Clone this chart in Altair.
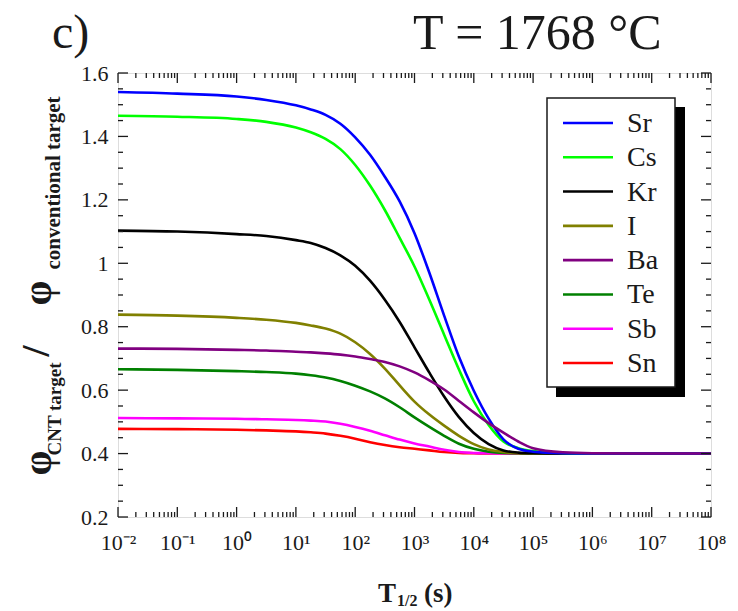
import altair as alt
import pandas as pd

# Half-life grid (s) and the CNT / conventional target ratio for each nuclide
T_HALF = [0.01, 0.1, 1, 3.16, 10, 17.8, 31.6, 56.2, 100, 178, 316, 562,
          1000, 1780, 3160, 5620, 1e4, 1.78e4, 3.16e4, 5.62e4, 1e5, 3.16e5,
          1e6, 1e7, 1e8]

SR = [1.540, 1.535, 1.526, 1.515, 1.498, 1.485, 1.468, 1.440, 1.397, 1.342, 1.273, 1.195,
      1.095, 0.970, 0.835, 0.705, 0.598, 0.510, 0.445, 0.415, 0.406, 0.401, 0.400, 0.400, 0.400]
CS = [1.465, 1.462, 1.455, 1.446, 1.428, 1.413, 1.392, 1.360, 1.310, 1.245, 1.168, 1.080,
      0.990, 0.885, 0.775, 0.665, 0.565, 0.490, 0.438, 0.417, 0.408, 0.402, 0.400, 0.400, 0.400]
KR = [1.103, 1.100, 1.092, 1.086, 1.073, 1.064, 1.048, 1.025, 0.992, 0.945, 0.885, 0.815,
      0.735, 0.655, 0.580, 0.515, 0.465, 0.430, 0.410, 0.403, 0.401, 0.400, 0.400, 0.400, 0.400]
I_ = [0.838, 0.835, 0.828, 0.822, 0.812, 0.804, 0.794, 0.778, 0.751, 0.714, 0.668, 0.615,
      0.564, 0.523, 0.488, 0.456, 0.430, 0.413, 0.405, 0.401, 0.400, 0.400, 0.400, 0.400, 0.400]
BA = [0.731, 0.730, 0.727, 0.725, 0.721, 0.719, 0.716, 0.712, 0.706, 0.698, 0.689, 0.675,
      0.656, 0.631, 0.602, 0.566, 0.530, 0.496, 0.466, 0.438, 0.417, 0.404, 0.401, 0.400, 0.400]
TE = [0.666, 0.664, 0.660, 0.657, 0.652, 0.647, 0.640, 0.629, 0.614, 0.596, 0.574, 0.546,
      0.514, 0.484, 0.456, 0.431, 0.415, 0.406, 0.402, 0.401, 0.400, 0.400, 0.400, 0.400, 0.400]
SB = [0.512, 0.511, 0.510, 0.508, 0.506, 0.504, 0.501, 0.494, 0.484, 0.472, 0.458, 0.444,
      0.432, 0.422, 0.412, 0.405, 0.402, 0.401, 0.400, 0.400, 0.400, 0.400, 0.400, 0.400, 0.400]
SN = [0.478, 0.477, 0.475, 0.473, 0.470, 0.467, 0.463, 0.456, 0.447, 0.436, 0.427, 0.420,
      0.415, 0.410, 0.405, 0.402, 0.401, 0.400, 0.400, 0.400, 0.400, 0.400, 0.400, 0.400, 0.400]

NUCLIDES = ["Sr", "Cs", "Kr", "I", "Ba", "Te", "Sb", "Sn"]
COLORS = ["#0000ff", "#00ff00", "#000000", "#808000", "#800080", "#008000", "#ff00ff", "#ff0000"]
SERIES = {"Sr": SR, "Cs": CS, "Kr": KR, "I": I_, "Ba": BA, "Te": TE, "Sb": SB, "Sn": SN}
DRAW_ORDER = ["Sn", "Sb", "Te", "I", "Kr", "Cs", "Sr", "Ba"]

X_DECADES = [1e-2, 1e-1, 1e0, 1e1, 1e2, 1e3, 1e4, 1e5, 1e6, 1e7, 1e8]
Y_MAJOR = [0.2, 0.4, 0.6, 0.8, 1.0, 1.2, 1.4, 1.6]

W, H = 593, 444
SERIF = "Liberation Serif"
INK = "#1a1a1a"

rows = []
for name in DRAW_ORDER:
    for t, v in zip(T_HALF, SERIES[name]):
        rows.append({"T_half": t, "ratio": v, "nuclide": name})
df = pd.DataFrame(rows)

xscale = alt.Scale(type="log", domain=[1e-2, 1e8], nice=False)
yscale = alt.Scale(domain=[0.2, 1.6], nice=False, zero=False)
cscale = alt.Scale(domain=NUCLIDES, range=COLORS)

EXP = "round(log(datum.value)/LN10)"
SUPS = {-2: "\u207b\u00b2", -1: "\u207b\u00b9", 0: "\u2070", 1: "\u00b9", 2: "\u00b2",
        3: "\u00b3", 4: "\u2074", 5: "\u2075", 6: "\u2076", 7: "\u2077"}
sup_expr = "'10' + (" + " : ".join(f"{EXP} == {e} ? '{s}'" for e, s in SUPS.items()) \
    + " : '\u2078')"

lines = alt.Chart(df).mark_line(strokeWidth=2.6, interpolate="monotone").encode(
    x=alt.X("T_half:Q", scale=xscale,
            axis=alt.Axis(values=X_DECADES, labelExpr=sup_expr, ticks=False, tickSize=0,
                          domain=False, grid=False, title=None, labelFlush=False,
                          labelOverlap=False, labelFont=SERIF, labelFontSize=22,
                          labelColor=INK, labelPadding=15)),
    y=alt.Y("ratio:Q", scale=yscale,
            axis=alt.Axis(values=Y_MAJOR, format="~g", ticks=False, tickSize=0,
                          domain=False, grid=False, title=None, labelFont=SERIF,
                          labelFontSize=22, labelColor=INK, labelPadding=10)),
    color=alt.Color("nuclide:N", scale=cscale, legend=None),
    detail="nuclide:N",
)

# inward tick marks on all four sides
x_minor = [k * d for d in X_DECADES[:-1] for k in range(2, 10)]
y_minor = [round(0.2 + 0.05 * i, 2) for i in range(29) if i % 4 != 0]


def x_ticks(vals, length):
    base = alt.Chart(pd.DataFrame({"t": vals})).mark_rule(color=INK, strokeWidth=1.3)
    enc = alt.X("t:Q", scale=xscale, axis=None)
    return [base.encode(x=enc, y=alt.value(H), y2=alt.value(H - length)),
            base.encode(x=enc, y=alt.value(0), y2=alt.value(length))]


def y_ticks(vals, length):
    base = alt.Chart(pd.DataFrame({"v": vals})).mark_rule(color=INK, strokeWidth=1.3)
    enc = alt.Y("v:Q", scale=yscale, axis=None)
    return [base.encode(y=enc, x=alt.value(0), x2=alt.value(length)),
            base.encode(y=enc, x=alt.value(W), x2=alt.value(W - length))]


ticks = (x_ticks(X_DECADES, 10) + x_ticks(x_minor, 5)
         + y_ticks(Y_MAJOR, 10) + y_ticks(y_minor, 5))

one = pd.DataFrame({"k": [0]})

# boxed legend with a drop shadow
shadow = alt.Chart(one).mark_rect(color="black").encode(
    x=alt.value(438), x2=alt.value(567), y=alt.value(34), y2=alt.value(324))
box = alt.Chart(one).mark_rect(fill="white", stroke=INK, strokeWidth=1.5).encode(
    x=alt.value(429), x2=alt.value(557), y=alt.value(25), y2=alt.value(314))

leg_df = pd.DataFrame({"nuclide": NUCLIDES})
leg_y = alt.Y("nuclide:N",
              scale=alt.Scale(type="point", domain=NUCLIDES, range=[50, 290], padding=0),
              axis=None)
leg_lines = alt.Chart(leg_df).mark_rule(strokeWidth=2.6).encode(
    y=leg_y, x=alt.value(445), x2=alt.value(495),
    color=alt.Color("nuclide:N", scale=cscale, legend=None))
leg_text = alt.Chart(leg_df).mark_text(
    font=SERIF, fontSize=28, color=INK, align="left", baseline="middle", dy=1
).encode(y=leg_y, x=alt.value(509), text="nuclide:N")


def label(text, x, y, size, bold=False, angle=0, align="left", baseline="alphabetic"):
    return alt.Chart(one).mark_text(
        text=text, font=SERIF, fontSize=size, fontWeight="bold" if bold else "normal",
        color=INK, angle=angle, align=align, baseline=baseline
    ).encode(x=alt.value(x), y=alt.value(y))


texts = [
    label("c)", -66, -25, 48),
    label("T = 1768 \u00b0C", 295, -24, 50),
    # x-axis title: T_1/2 (s)
    label("T", 260, 529, 27, bold=True),
    label("1/2", 279, 533, 16, bold=True),
    label("(s)", 306, 529, 27, bold=True),
    # y-axis title: phi_CNT target / phi_conventional target
    label("\u03c6", -79, 390, 40, bold=True, angle=270, align="center", baseline="middle"),
    label("CNT target", -63, 336, 19, bold=True, angle=270, align="center", baseline="middle"),
    label("/", -81, 278, 40, bold=True, angle=270, align="center", baseline="middle"),
    label("\u03c6", -79, 220, 40, bold=True, angle=270, align="center", baseline="middle"),
    label("conventional target", -64, 110, 21, bold=True, angle=270, align="center",
          baseline="middle"),
]

chart = alt.layer(
    lines, *ticks, shadow, box, leg_lines, leg_text, *texts
).resolve_scale(x="independent", y="independent").resolve_axis(
    x="independent", y="independent"
).properties(
    width=W, height=H,
    autosize=alt.AutoSizeParams(type="none"),
    padding={"left": 118, "top": 73, "right": 27, "bottom": 94},
).configure_view(stroke=INK, strokeWidth=1.5).configure(background="white")

chart.save("out.html", embed_options={"renderer": "svg", "actions": False})
